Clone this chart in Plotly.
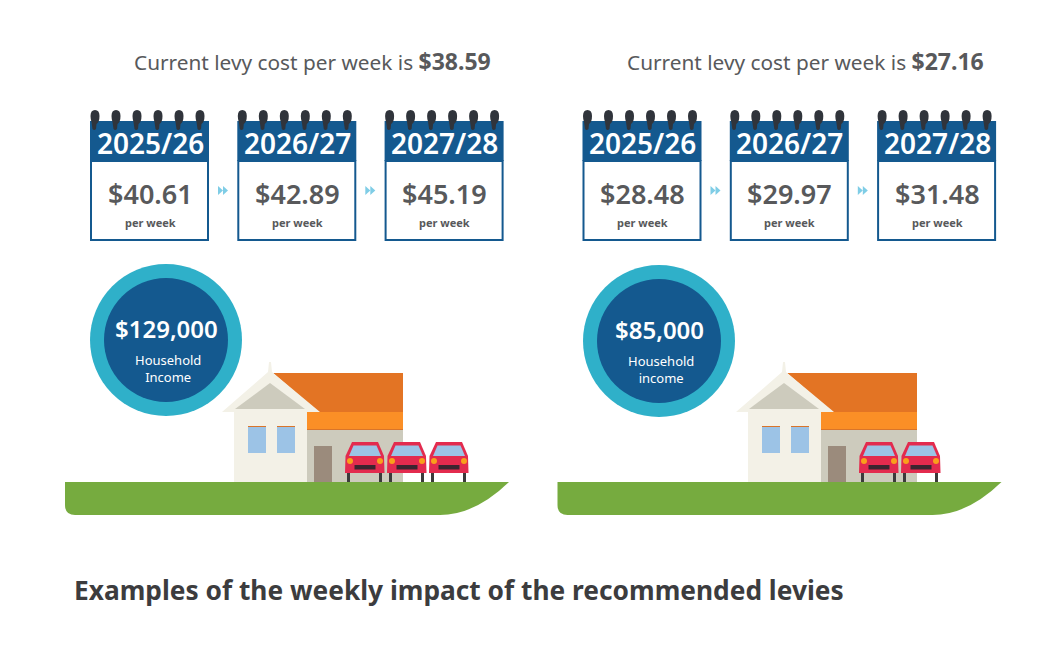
import plotly.graph_objects as go

# values
years = ['2025/26', '2026/27', '2027/28']
levy_now = ['$38.59', '$27.16']
levy_left = ['$40.61', '$42.89', '$45.19']
levy_right = ['$28.48', '$29.97', '$31.48']
incomes = ['$129,000', '$85,000']
income_words = ['Household<br>Income', 'Household<br>income']
car_counts = [3, 2]
title = 'Examples of the weekly impact of the recommended levies'

BLUE = '#14598f'
TEAL = '#2fb0c9'
GREY = '#58595b'
FONT = 'Noto Sans'

fig = go.Figure()


def box(x0, y0, x1, y1, fill, line=None, width=0):
    fig.add_shape(type='rect', x0=x0, y0=y0, x1=x1, y1=y1, fillcolor=fill,
                  line=dict(color=line or fill, width=width), layer='above')


def poly(path, fill):
    fig.add_shape(type='path', path=path, fillcolor=fill, line=dict(width=0), layer='above')


def circle(cx, cy, r, fill):
    fig.add_shape(type='circle', x0=cx - r, x1=cx + r, y0=cy - r, y1=cy + r,
                  fillcolor=fill, line=dict(width=0), layer='above')


def label(x, y, text, size, color=GREY, anchor='center', weight=None):
    fig.add_annotation(x=x, y=y, text=text, showarrow=False, xanchor=anchor, yanchor='middle',
                       font=dict(family=FONT, size=size, color=color, weight=weight),
                       align='center')


def calendar(x, year, price):
    box(x + 1, 161, x + 118, 240, 'white', BLUE, 2)
    box(x, 121, x + 119, 161, BLUE)
    for i in range(6):
        rx = x + 5 + i * 21
        # spiral ring: round head with a narrow tail running down into the header
        poly(f'M{rx-4.5},116 Q{rx-4.5},110 {rx},110 Q{rx+4.5},110 {rx+4.5},116 '
             f'Q{rx+4.5},122 {rx+1.5},124 L{rx+1},129 Q{rx-1},131 {rx-2.5},129 '
             f'L{rx-3.5},122 Q{rx-4.5},119 {rx-4.5},116 Z', '#30343b')
    label(x + 60, 142.5, year, 28, 'white', weight=600)
    label(x + 60, 193, price, 27, GREY, weight=600)
    label(x + 60, 222, 'per week', 11, GREY, weight=700)


def chevrons(x):
    for dx in (0, 5):
        poly(f'M{x+dx},186 L{x+dx+5},190.5 L{x+dx},195 Z', '#7fcde6')


def car(x):
    for lx in (2, 34):
        box(x + lx, 472, x + lx + 3, 482, '#3b3b3b')
    poly(f'M{x+7},442 L{x+33},442 L{x+39},456 L{x+39.5},473 L{x},473 L{x+0.5},456 Z', '#e32b4e')
    poly(f'M{x+8.5},445.5 L{x+31.5},445.5 L{x+36},456 L{x+4},456 Z', '#9cc3e6')
    circle(x + 5, 461, 3, '#f9a01b')
    circle(x + 35, 461, 3, '#f9a01b')
    box(x + 9.5, 465, x + 30.5, 469.5, '#3a2530')


def house(dx, n_cars):
    poly(f'M{dx+273},373 L{dx+403},373 L{dx+403},412 L{dx+318},412 Z', '#e37424')
    box(dx + 307, 412, dx + 403, 429, '#fb8f26')
    box(dx + 307, 429, dx + 403, 430.5, '#d9752a')
    box(dx + 307, 430, dx + 403, 482, '#cdcbbd')
    box(dx + 314, 446, dx + 332, 482, '#9b8b7c')
    box(dx + 234, 410, dx + 307, 482, '#f3f1e7')
    poly(f'M{dx+269},362 L{dx+271},362 L{dx+272},372 L{dx+320},412 L{dx+222},412 L{dx+268},372 Z', '#f3f1e7')
    poly(f'M{dx+270},383 L{dx+305},409 L{dx+235},409 Z', '#cdcbbd')
    for wx in (248, 277):
        box(dx + wx, 426, dx + wx + 18, 453, '#9cc3e6')
        box(dx + wx, 426, dx + wx + 18, 427, '#d9752a')
    for i in range(n_cars):
        car(dx + 345 + i * 42)


def ground(x):
    poly(f'M{x},482 L{x+444},482 Q{x+410},515 {x+375},515 L{x+10},515 '
         f'Q{x},515 {x},505 Z', '#76ab3f')


panels = [(0, levy_left, 166, 340, 0), (492.5, levy_right, 659, 341, 514)]
for p, (dx, prices, cx, cy, hx) in enumerate(panels):
    label(132 if p == 0 else 625, 61,
          f'Current levy cost per week is <span style="font-size:23px"><b>{levy_now[p]}</b></span>',
          20.8, anchor='left')
    for i, (year, price) in enumerate(zip(years, prices)):
        calendar(90 + dx + i * 147.3, year, price)
    for i in range(2):
        chevrons(218 + dx + i * 147.3)
    ground(65 + dx)
    house(hx, car_counts[p])
    circle(cx, cy, 76, TEAL)
    circle(cx, cy, 62, BLUE)
    label(cx, cy - 12, incomes[p], 24, 'white', weight=600)
    label(cx + 2, cy + 28, income_words[p], 13, 'white')

label(72, 589.5, f'<b>{title}</b>', 26.3, '#3c3c3e', anchor='left')

fig.update_xaxes(range=[0, 1050], visible=False, fixedrange=True)
fig.update_yaxes(range=[649, 0], visible=False, fixedrange=True)
fig.update_layout(width=1050, height=649, margin=dict(l=0, r=0, t=0, b=0),
                  plot_bgcolor='white', paper_bgcolor='white', showlegend=False)
fig.write_html("out.html", config={'displayModeBar': False},
               post_script="document.body.style.margin='0'")
